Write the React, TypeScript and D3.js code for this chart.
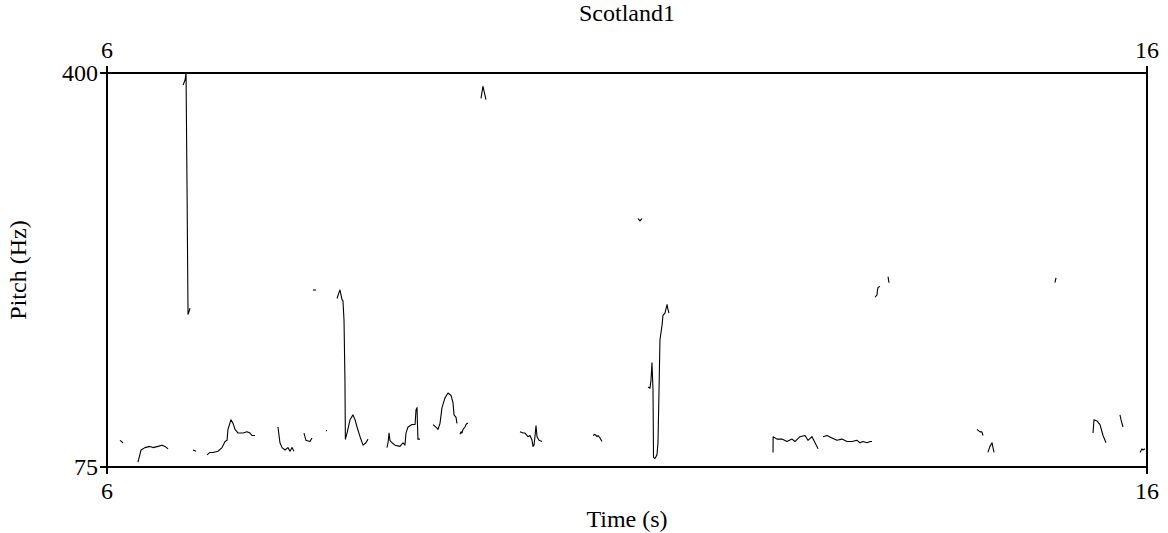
import React, { useRef, useEffect } from 'react';
import * as d3 from 'd3';

const title = 'Scotland1';
const xLabel = 'Time (s)';
const yLabel = 'Pitch (Hz)';
const timeDomain = [6, 16];
const pitchDomain = [75, 400];
const timeTicks = [6, 16];
const pitchTicks = [75, 400];

// pitch track pieces, [time (s), pitch (Hz)]
const seg01 = [[6.125, 97], [6.154, 95]];
const seg02 = [[6.298, 79], [6.327, 89], [6.365, 91], [6.413, 92], [6.442, 91], [6.49, 92], [6.529, 93], [6.558, 92], [6.587, 90]];
const seg03 = [[6.731, 390], [6.75, 394], [6.76, 400], [6.77, 300], [6.779, 201], [6.788, 203], [6.798, 206]];
const seg04 = [[6.827, 89], [6.856, 88]];
const seg05 = [[6.962, 85], [6.99, 87], [7.019, 87], [7.067, 88], [7.106, 91], [7.135, 96], [7.154, 97], [7.163, 106], [7.192, 114], [7.212, 111], [7.231, 106], [7.26, 103], [7.308, 103], [7.346, 104], [7.375, 103], [7.394, 101], [7.423, 101]];
const seg06 = [[7.644, 108], [7.663, 95], [7.683, 91], [7.712, 89], [7.74, 91], [7.76, 88], [7.779, 91], [7.798, 88]];
const seg07 = [[7.894, 103], [7.913, 97], [7.952, 96], [7.971, 99]];
const seg08 = [[7.981, 221], [8.01, 221]];
const seg09 = [[8.106, 105], [8.115, 105]];
const seg10 = [[8.212, 214], [8.231, 219], [8.24, 221], [8.25, 217], [8.26, 213], [8.269, 212], [8.279, 196], [8.288, 147], [8.292, 98], [8.308, 103], [8.337, 114], [8.365, 118], [8.385, 114], [8.404, 108], [8.433, 100], [8.462, 93], [8.49, 95], [8.51, 98]];
const seg11 = [[8.692, 91], [8.702, 95], [8.712, 103], [8.721, 97], [8.74, 95], [8.769, 93], [8.817, 92], [8.846, 95], [8.865, 93], [8.875, 103], [8.894, 108], [8.933, 110], [8.962, 110], [8.971, 122], [8.981, 124], [8.985, 111], [8.99, 98], [9.01, 98]];
const seg12 = [[9.135, 110], [9.173, 107], [9.183, 106], [9.202, 111], [9.221, 124], [9.25, 132], [9.279, 136], [9.308, 134], [9.327, 128], [9.337, 118], [9.356, 116], [9.365, 111]];
const seg13 = [[9.394, 102], [9.404, 104], [9.413, 103], [9.423, 106], [9.442, 108], [9.452, 110], [9.462, 111], [9.471, 111]];
const seg14 = [[9.596, 379], [9.615, 389], [9.644, 378]];
const seg15 = [[9.971, 104], [10.0, 103], [10.019, 103], [10.048, 100], [10.067, 101], [10.087, 97], [10.096, 92], [10.106, 93], [10.115, 100], [10.125, 109], [10.135, 100], [10.154, 97], [10.183, 96]];
const seg16 = [[10.673, 101], [10.692, 102], [10.712, 100], [10.721, 101], [10.74, 99], [10.76, 96]];
const seg17 = [[11.106, 280], [11.125, 278], [11.144, 280]];
const seg18 = [[11.202, 141], [11.221, 140], [11.231, 147], [11.24, 161], [11.25, 139], [11.255, 83], [11.269, 82], [11.288, 85], [11.298, 95], [11.308, 139], [11.317, 180], [11.337, 192], [11.346, 200], [11.365, 202], [11.385, 209], [11.394, 205], [11.404, 202]];
const seg19 = [[12.404, 87], [12.405, 100], [12.442, 98], [12.49, 98], [12.538, 96], [12.587, 98], [12.615, 96], [12.663, 100], [12.712, 101], [12.74, 97], [12.779, 100], [12.808, 95], [12.837, 90]];
const seg20 = [[12.885, 100], [12.923, 101], [12.971, 99], [13.019, 97], [13.067, 98], [13.115, 96], [13.163, 96], [13.212, 97], [13.24, 95], [13.269, 96], [13.308, 95], [13.337, 96], [13.356, 96]];
const seg21 = [[13.385, 215], [13.404, 217], [13.406, 219], [13.413, 223], [13.433, 224]];
const seg22 = [[13.51, 232], [13.519, 227]];
const seg23 = [[14.365, 106], [14.394, 104], [14.413, 104], [14.423, 101]];
const seg24 = [[14.471, 87], [14.49, 92], [14.51, 95], [14.519, 91], [14.529, 87]];
const seg25 = [[15.115, 227], [15.125, 231]];
const seg26 = [[15.481, 103], [15.49, 114], [15.519, 113], [15.548, 110], [15.577, 101], [15.606, 95]];
const seg27 = [[15.74, 118], [15.75, 114], [15.769, 108]];
const seg28 = [[15.933, 87], [15.952, 90], [15.962, 89], [15.981, 90]];

const segments = [seg01, seg02, seg03, seg04, seg05, seg06, seg07, seg08, seg09, seg10, seg11, seg12, seg13, seg14,
  seg15, seg16, seg17, seg18, seg19, seg20, seg21, seg22, seg23, seg24, seg25, seg26, seg27, seg28];

const W = 1168;
const H = 533;
const margin = { top: 73, right: 21, bottom: 66, left: 107 };
const FONT = "'Liberation Serif', 'Times New Roman', 'DejaVu Serif', serif";

function App() {
  const svgRef = useRef(null);

  useEffect(() => {
    const svg = d3.select(svgRef.current);
    svg.selectAll('*').remove();

    const x = d3.scaleLinear().domain(timeDomain).range([margin.left, W - margin.right]);
    const y = d3.scaleLinear().domain(pitchDomain).range([H - margin.bottom, margin.top]);

    svg.append('clipPath').attr('id', 'plot-clip')
      .append('rect')
      .attr('x', x(timeDomain[0])).attr('y', y(pitchDomain[1]))
      .attr('width', x(timeDomain[1]) - x(timeDomain[0]))
      .attr('height', y(pitchDomain[0]) - y(pitchDomain[1]));

    // pitch contours
    const line = d3.line().x(d => x(d[0])).y(d => y(d[1]));
    svg.append('g')
      .attr('clip-path', 'url(#plot-clip)')
      .selectAll('path')
      .data(segments)
      .join('path')
      .attr('d', line)
      .attr('fill', 'none')
      .attr('stroke', '#000')
      .attr('stroke-width', 1.1)
      .attr('stroke-linejoin', 'round');

    // frame
    svg.append('rect')
      .attr('x', x(timeDomain[0])).attr('y', y(pitchDomain[1]))
      .attr('width', x(timeDomain[1]) - x(timeDomain[0]))
      .attr('height', y(pitchDomain[0]) - y(pitchDomain[1]))
      .attr('fill', 'none').attr('stroke', '#000').attr('stroke-width', 2);

    const tickLen = 7;
    const yBottom = y(pitchDomain[0]);
    const yTop = y(pitchDomain[1]);

    // left axis
    const left = svg.append('g');
    left.selectAll('line').data(pitchTicks).join('line')
      .attr('x1', margin.left - tickLen).attr('x2', margin.left)
      .attr('y1', d => y(d)).attr('y2', d => y(d))
      .attr('stroke', '#000').attr('stroke-width', 2);
    left.selectAll('text').data(pitchTicks).join('text')
      .attr('x', margin.left - 9).attr('y', d => y(d))
      .attr('dy', '0.35em')
      .attr('text-anchor', 'end')
      .text(d => d);

    // bottom and top axes
    [{ y0: yBottom, dir: 1, ty: yBottom + 24 }, { y0: yTop, dir: -1, ty: yTop - 23 }].forEach(a => {
      const g = svg.append('g');
      g.selectAll('line').data(timeTicks).join('line')
        .attr('x1', d => x(d)).attr('x2', d => x(d))
        .attr('y1', a.y0).attr('y2', a.y0 + a.dir * tickLen)
        .attr('stroke', '#000').attr('stroke-width', 2);
      g.selectAll('text').data(timeTicks).join('text')
        .attr('x', d => x(d)).attr('y', a.ty)
        .attr('dy', '0.35em')
        .attr('text-anchor', 'middle')
        .text(d => d);
    });

    svg.append('text')
      .attr('x', (margin.left + W - margin.right) / 2).attr('y', 13)
      .attr('dy', '0.35em').attr('text-anchor', 'middle')
      .text(title);

    svg.append('text')
      .attr('x', (margin.left + W - margin.right) / 2).attr('y', 519)
      .attr('dy', '0.35em').attr('text-anchor', 'middle')
      .text(xLabel);

    svg.append('text')
      .attr('transform', `translate(18,${(yTop + yBottom) / 2}) rotate(-90)`)
      .attr('dy', '0.35em').attr('text-anchor', 'middle')
      .text(yLabel);

    svg.selectAll('text')
      .attr('font-family', FONT)
      .attr('font-size', 24)
      .attr('fill', '#000');
  }, []);

  return (
    <svg ref={svgRef} width={W} height={H}
      style={{ position: 'absolute', left: 0, top: 0, background: '#fff' }} />
  );
}

export default App;
